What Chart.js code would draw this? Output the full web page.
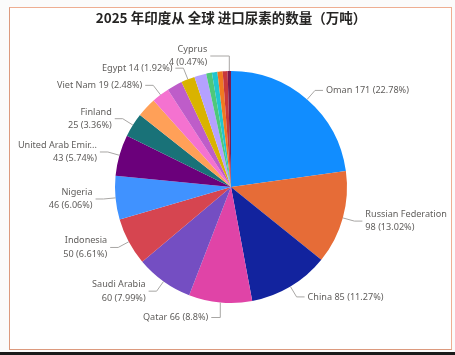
<!DOCTYPE html>
<html>
<head>
<meta charset="utf-8">
<script src="https://cdn.jsdelivr.net/npm/chart.js@4/dist/chart.umd.min.js"></script>
<style>
  html, body { margin: 0; padding: 0; background: #ffffff; overflow: hidden; }
  #wrap { position: relative; width: 455px; height: 355px; overflow: hidden; background: #fbfbfb; }
  #frame { position: absolute; left: 9px; top: 7px; width: 441px; height: 341px;
           border: 1px solid #eeae92; border-left-color: #dc9a7e; border-bottom-color: #dc9a7e; background: #ffffff; }
  #bottombar { position: absolute; left: 0; top: 352px; width: 455px; height: 3px; background: #1a1a1a; z-index: 5; }
  canvas { position: absolute; left: 0; top: 0; display: block; }
</style>
</head>
<body>
<div id="wrap">
  <div id="frame"></div>
  <canvas id="c" width="455" height="350"></canvas>
  <div id="bottombar"></div>
</div>
<script>
// ---- data ----
const titleText = "2025 年印度从 全球 进口尿素的数量（万吨）";
const categories = [
  "Oman", "Russian Federation", "China", "Qatar", "Saudi Arabia", "Indonesia",
  "Nigeria", "United Arab Emirates", "Finland", "Other A", "Viet Nam", "Other B",
  "Egypt", "Other C", "Other D", "Other E", "Other F", "Other G", "Cyprus"
];
const values = [
  171.0, 97.7, 84.6, 66.05, 60.0, 49.6,
  45.5, 43.1, 25.2, 20.5, 18.6, 16.0,
  14.4, 12.5, 6.0, 5.7, 5.5, 5.1, 3.5
];
const sliceColors = [
  "#118DFF", "#E66C37", "#12239E", "#E044A7", "#744EC2", "#D64550",
  "#4092FF", "#6B007B", "#197278", "#FFA058", "#F472D0", "#BE5DC9",
  "#D9B300", "#B5A1FF", "#4EC87A", "#21C5D0", "#F07A20", "#C8383C", "#7A1A50"
];
const labeledCategories = [
  "Oman", "Russian Federation", "China", "Qatar", "Saudi Arabia", "Indonesia",
  "Nigeria", "United Arab Emirates", "Finland", "Viet Nam", "Egypt", "Cyprus"
];
const twoLineCategories = [
  "Russian Federation", "Saudi Arabia", "Indonesia", "Nigeria",
  "United Arab Emirates", "Finland", "Cyprus"
];

const LABEL_FONT = "9.1px 'Segoe UI', 'Noto Sans', sans-serif";
const LABEL_COLOR = "#605E5C";
const LINE_COLOR = "#A8A6A4";

function fitText(ctx, text, maxW) {
  if (ctx.measureText(text).width <= maxW) return text;
  let t = text;
  while (t.length > 1 && ctx.measureText(t + "...").width > maxW) t = t.slice(0, -1);
  return t.replace(/\s+$/, "") + "...";
}

const outLabels = {
  id: "outLabels",
  afterDatasetsDraw(chart) {
    const ctx = chart.ctx;
    const meta = chart.getDatasetMeta(0);
    const data = chart.data.datasets[0].data;
    const total = data.reduce((a, b) => a + b, 0);
    ctx.save();
    ctx.font = LABEL_FONT;
    ctx.fillStyle = LABEL_COLOR;
    ctx.strokeStyle = LINE_COLOR;
    ctx.lineWidth = 1;
    ctx.textBaseline = "middle";
    meta.data.forEach((arc, i) => {
      const name = chart.data.labels[i];
      if (!labeledCategories.includes(name)) return;
      const p = arc.getProps(["x", "y", "startAngle", "endAngle", "outerRadius"], true);
      const mid = (p.startAngle + p.endAngle) / 2;
      const cs = Math.cos(mid), sn = Math.sin(mid);
      const px = p.x + p.outerRadius * cs, py = p.y + p.outerRadius * sn;
      const v = data[i];
      const pct = parseFloat((v / total * 100).toFixed(2));
      const valTxt = Math.round(v) + " (" + pct + "%)";
      const twoLine = twoLineCategories.includes(name);
      const shownName = fitText(ctx, name, 84);
      const lines = twoLine ? [shownName, valTxt] : [shownName + " " + valTxt];

      let ex, ey, hx, side;
      if (Math.abs(cs) < 0.17) {
        ex = px; ey = py + (sn > 0 ? 15 : -15);
        side = -1;
        hx = ex - (sn > 0 ? 9 : 19);
      } else {
        const rr = p.outerRadius + 12;
        ex = p.x + rr * cs; ey = p.y + rr * sn;
        side = cs > 0 ? 1 : -1;
        hx = ex + side * 8;
      }
      ctx.beginPath();
      ctx.moveTo(px, py);
      ctx.lineTo(ex, ey);
      ctx.lineTo(hx, ey);
      ctx.stroke();

      ctx.textAlign = side > 0 ? "left" : "right";
      const tx = hx + side * 3;
      const lh = 13.5;
      const y0 = ey - (lines.length - 1) * lh / 2;
      lines.forEach((ln, k) => ctx.fillText(ln, tx, y0 + k * lh));
    });
    ctx.restore();
  }
};

new Chart(document.getElementById("c"), {
  type: "pie",
  data: {
    labels: categories,
    datasets: [{
      data: values,
      backgroundColor: sliceColors,
      borderWidth: 0
    }]
  },
  options: {
    responsive: false,
    animation: false,
    layout: { padding: { top: 0, bottom: 47, left: 7, right: 0 } },
    plugins: {
      legend: { display: false },
      tooltip: { enabled: false },
      title: {
        display: true,
        text: titleText,
        color: "#252423",
        font: { family: "'Noto Sans CJK SC', 'Noto Sans', sans-serif", size: 13.5, weight: "600", lineHeight: 1.2 },
        padding: { top: 10, bottom: 44.8 }
      }
    }
  },
  plugins: [outLabels]
});
</script>
</body>
</html>
